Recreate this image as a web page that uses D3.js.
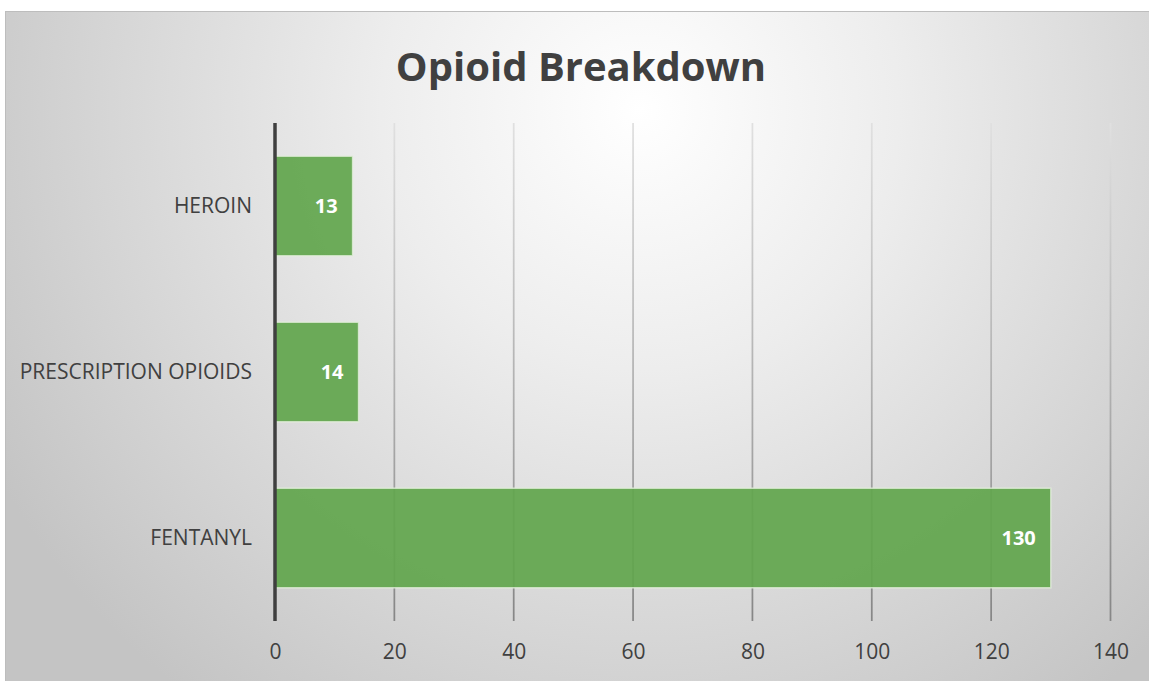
<!DOCTYPE html>
<html>
<head>
<meta charset="utf-8">
<script src="https://cdn.jsdelivr.net/npm/d3@7"></script>
<style>
  html, body { margin: 0; padding: 0; background: #ffffff; }
  svg { display: block; }
</style>
</head>
<body>
<svg id="chart" width="1149" height="681"></svg>
<script>
// Opioid deaths by type
const categories = ["HEROIN", "PRESCRIPTION OPIOIDS", "FENTANYL"];
const values = [13, 14, 130];
const xTicks = [0, 20, 40, 60, 80, 100, 120, 140];
const chartTitle = "Opioid Breakdown";

const W = 1149, H = 681;
const svg = d3.select("#chart");
const defs = svg.append("defs");

// Soft radial shading of the chart area
const bg = defs.append("radialGradient")
  .attr("id", "bgGrad")
  .attr("gradientUnits", "userSpaceOnUse")
  .attr("cx", 640).attr("cy", 110).attr("r", 740);
bg.append("stop").attr("offset", 0).attr("stop-color", "#ffffff");
bg.append("stop").attr("offset", 0.35).attr("stop-color", "#ededed");
bg.append("stop").attr("offset", 1).attr("stop-color", "#c4c4c4");

// Gridlines fade from light at the top to darker at the bottom
const plotTop = 123, plotBottom = 621;
const gg = defs.append("linearGradient")
  .attr("id", "gridGrad")
  .attr("gradientUnits", "userSpaceOnUse")
  .attr("x1", 0).attr("y1", plotTop).attr("x2", 0).attr("y2", plotBottom);
gg.append("stop").attr("offset", 0).attr("stop-color", "#e0e0e0");
gg.append("stop").attr("offset", 1).attr("stop-color", "#868686");

svg.append("rect")
  .attr("x", 5.5).attr("y", 11.5)
  .attr("width", W - 5).attr("height", H - 11)
  .attr("fill", "url(#bgGrad)")
  .attr("stroke", "#bdbdbd").attr("stroke-width", 1);

const x = d3.scaleLinear().domain([0, 140]).range([275, 1110.5]);
const y = d3.scaleBand().domain(categories).range([plotTop, plotBottom]).paddingInner(0.4).paddingOuter(0.2);

const font = "'Open Sans', 'DejaVu Sans', sans-serif";

// Title
svg.append("text")
  .attr("x", 581).attr("y", 81)
  .attr("text-anchor", "middle")
  .attr("font-family", font)
  .attr("font-weight", 700)
  .attr("font-size", 40)
  .attr("fill", "#404040")
  .text(chartTitle);

// Vertical gridlines
svg.append("g")
  .selectAll("line")
  .data(xTicks.filter(d => d > 0))
  .join("line")
  .attr("x1", d => x(d)).attr("x2", d => x(d))
  .attr("y1", plotTop).attr("y2", plotBottom)
  .attr("stroke", "url(#gridGrad)")
  .attr("stroke-width", 1.75);

// X axis tick labels
const xAxis = d3.axisBottom(x).tickValues(xTicks).tickSize(0).tickPadding(0);
const xg = svg.append("g")
  .attr("transform", `translate(0, ${plotBottom + 38})`)
  .call(xAxis);
xg.select(".domain").remove();
xg.selectAll("text")
  .attr("font-family", font)
  .attr("font-size", 21)
  .attr("fill", "#404040")
  .attr("dy", "0");

// Bars
svg.append("g")
  .selectAll("rect")
  .data(categories.map((c, i) => ({ c, v: values[i] })))
  .join("rect")
  .attr("x", x(0))
  .attr("y", d => y(d.c))
  .attr("width", d => x(d.v) - x(0))
  .attr("height", y.bandwidth())
  .attr("fill", "#62a64d")
  .attr("fill-opacity", 0.93)
  .attr("stroke", "#e4efdc")
  .attr("stroke-opacity", 0.8)
  .attr("stroke-width", 1.5);

// Value labels inside bar ends
svg.append("g")
  .selectAll("text")
  .data(categories.map((c, i) => ({ c, v: values[i] })))
  .join("text")
  .attr("x", d => x(d.v) - 15)
  .attr("y", d => y(d.c) + y.bandwidth() / 2)
  .attr("dy", "0.36em")
  .attr("text-anchor", "end")
  .attr("font-family", font)
  .attr("font-weight", 700)
  .attr("font-size", 20)
  .attr("fill", "#ffffff")
  .text(d => d.v);

// Category axis
const yAxis = d3.axisLeft(y).tickSize(0).tickPadding(23);
const yg = svg.append("g")
  .attr("transform", `translate(${x(0)}, 0)`)
  .call(yAxis);
yg.select(".domain").remove();
yg.selectAll("text")
  .attr("font-family", font)
  .attr("font-size", 21)
  .attr("fill", "#404040");

svg.append("line")
  .attr("x1", x(0)).attr("x2", x(0))
  .attr("y1", plotTop).attr("y2", plotBottom)
  .attr("stroke", "#3f3f3f")
  .attr("stroke-width", 3.5);
</script>
</body>
</html>
